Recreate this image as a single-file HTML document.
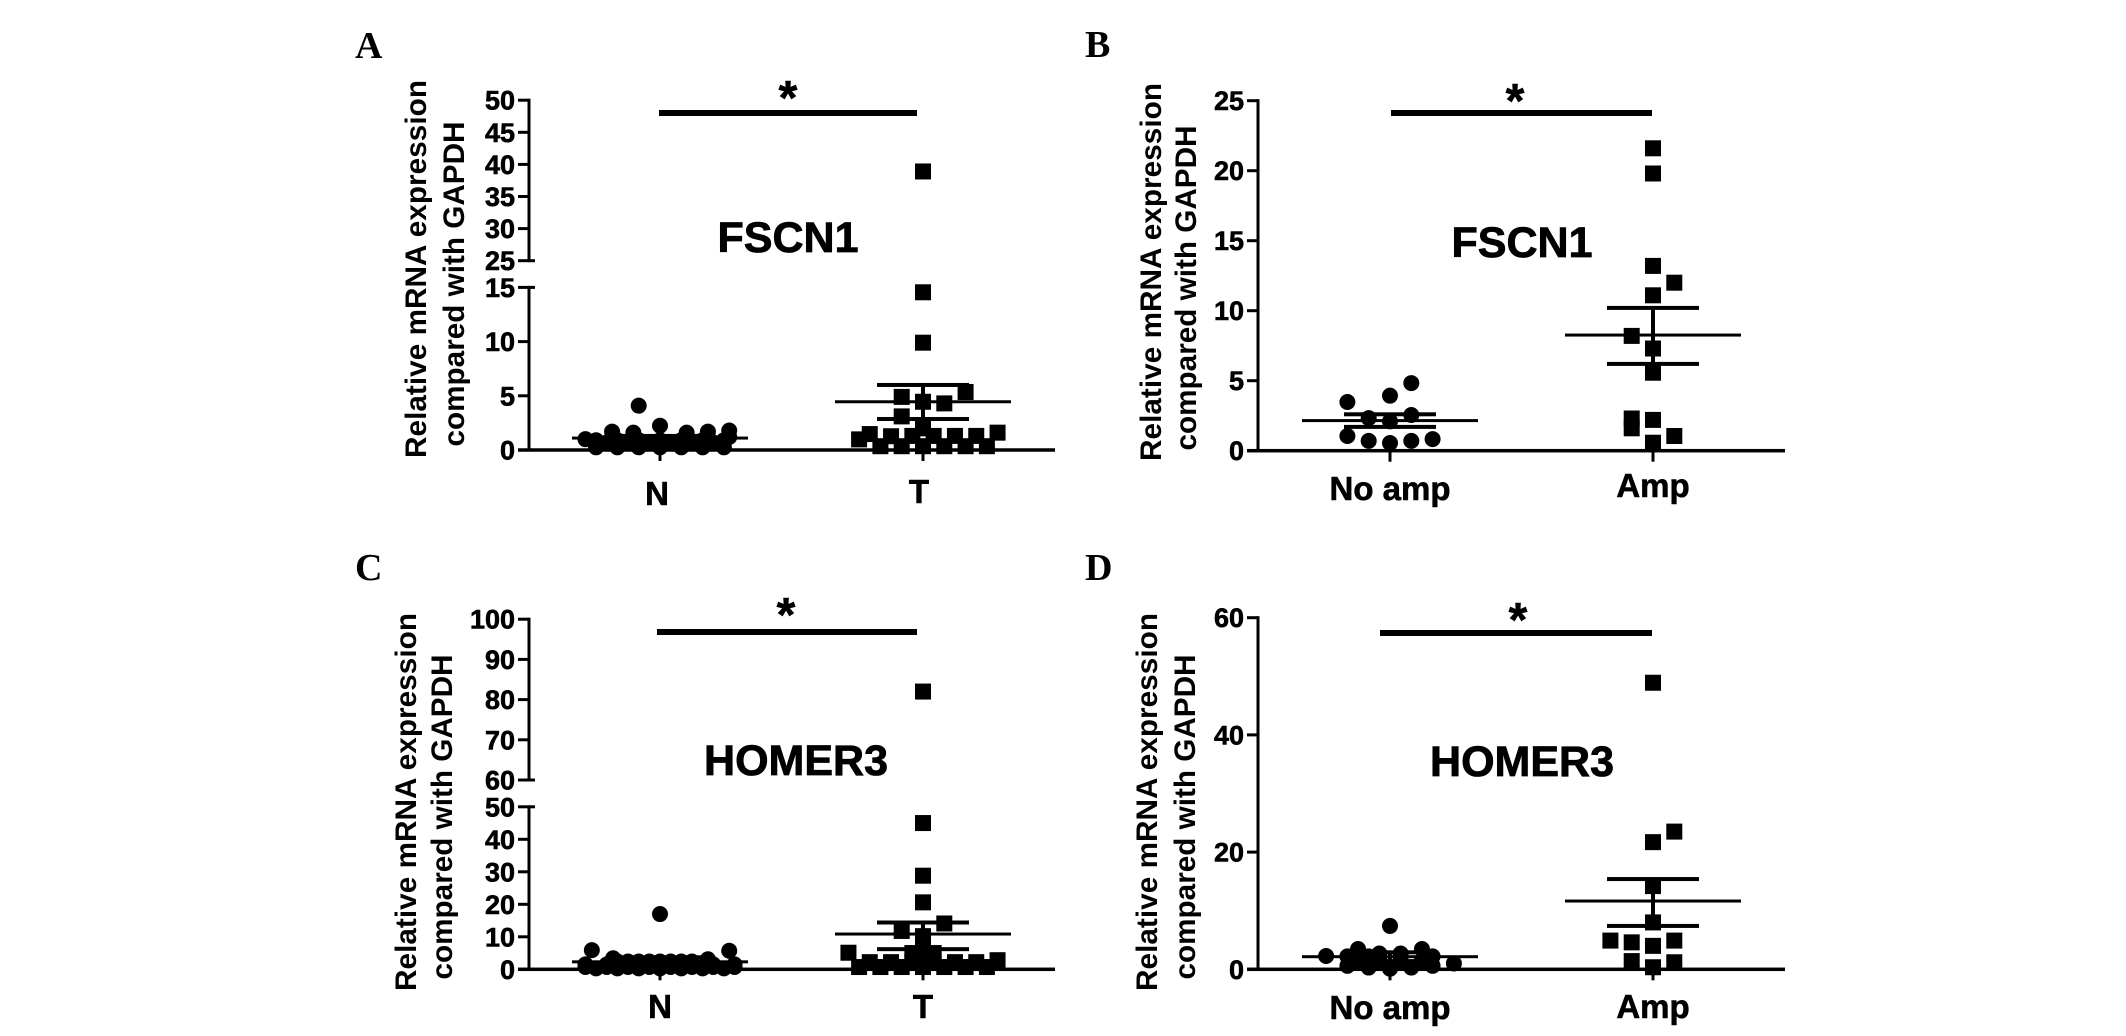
<!DOCTYPE html>
<html lang="en">
<head>
<meta charset="utf-8">
<title>FSCN1 and HOMER3 relative mRNA expression</title>
<style>
  html, body { margin: 0; padding: 0; background: #fff; }
  svg { display: block; width: 2126px; height: 1036px; font-family: "Liberation Sans", sans-serif; font-weight: bold; fill: #000; }
  .letter { font-family: "Liberation Serif", serif; font-size: 38px; font-weight: bold; }
  .ytitle { font-size: 29.7px; text-anchor: middle; }
  .gene { font-size: 43px; text-anchor: middle; stroke: #000; stroke-width: 0.8px; }
  .star { font-size: 48px; text-anchor: middle; stroke: #000; stroke-width: 0.6px; }
  .tick-label { font-size: 27px; text-anchor: end; stroke: #000; stroke-width: 0.6px; }
  .cat-label { font-size: 33px; text-anchor: middle; stroke: #000; stroke-width: 0.6px; }
</style>
</head>
<body>
<svg id="figure" xmlns="http://www.w3.org/2000/svg" width="2126" height="1036" viewBox="0 0 2126 1036">
  <text class="letter" x="355" y="58">A</text>
  <text class="letter" x="1085" y="57">B</text>
  <text class="letter" x="355" y="580">C</text>
  <text class="letter" x="1085" y="580">D</text>

  <text class="ytitle" transform="translate(426,269) rotate(-90)" textLength="378">Relative mRNA expression</text>
  <text class="ytitle" transform="translate(464,284) rotate(-90)" textLength="325">compared with GAPDH</text>
  <text class="ytitle" transform="translate(1161,272) rotate(-90)" textLength="378">Relative mRNA expression</text>
  <text class="ytitle" transform="translate(1196,288) rotate(-90)" textLength="325">compared with GAPDH</text>
  <text class="ytitle" transform="translate(416,802) rotate(-90)" textLength="378">Relative mRNA expression</text>
  <text class="ytitle" transform="translate(452,817) rotate(-90)" textLength="325">compared with GAPDH</text>
  <text class="ytitle" transform="translate(1157,802) rotate(-90)" textLength="378">Relative mRNA expression</text>
  <text class="ytitle" transform="translate(1195,817) rotate(-90)" textLength="325">compared with GAPDH</text>

  <text class="gene" x="788" y="252">FSCN1</text>
  <text class="gene" x="1522" y="257">FSCN1</text>
  <text class="gene" x="796" y="775">HOMER3</text>
  <text class="gene" x="1522" y="776">HOMER3</text>

  <rect x="659" y="110" width="258" height="6"/>
  <rect x="1391" y="110" width="261" height="6"/>
  <rect x="657" y="629" width="260" height="6"/>
  <rect x="1380" y="630" width="272" height="6"/>
  <text class="star" x="788" y="114">*</text>
  <text class="star" x="1515" y="117">*</text>
  <text class="star" x="786" y="631">*</text>
  <text class="star" x="1518" y="636">*</text>
</svg>
<script>
// Panel A data
const aTicks = [0, 5, 10, 15, 25, 30, 35, 40, 45, 50];
const aCategories = ["N", "T"];
const aNValues = [4.09, 2.24, 1.7, 1.6, 1.6, 1.7, 1.8, 1.2, 1.0, 0.9, 0.9, 0.9, 0.9, 0.9, 0.9, 0.9, 0.7, 0.7, 0.7, 0.7, 0.7, 0.7, 0.25, 0.25, 0.25, 0.25, 0.25, 0.25, 0.25];
const aNSlots = [-2, 0, -4.5, -2.5, 2.5, 4.5, 6.5, 6.5, -7, -6, -4, -2, 0, 2, 4, 6, -5, -3, -1, 1, 3, 5, -6, -4, -2, 0, 2, 4, 6];
const aTValues = [38.9, 14.55, 9.9, 5.35, 4.9, 4.45, 4.3, 3.1, 2.0, 0.98, 1.47, 1.27, 1.3, 1.3, 1.3, 1.3, 1.6, 0.35, 0.35, 0.35, 0.35, 0.35, 0.35];
const aTSlots = [0, 0, 0, 4, -2, 0, 2, -2, 0, -6, -5, -3, -1, 1, 3, 5, 7, -4, -2, 0, 2, 4, 6];
const aStats = [[1.1, 1.3, 0.9], [4.45, 6.0, 2.86]];

// Panel B data
const bTicks = [0, 5, 10, 15, 20, 25];
const bCategories = ["No amp", "Amp"];
const bNValues = [4.83, 3.93, 3.48, 2.55, 2.33, 2.1, 1.05, 0.83, 0.7, 0.7, 0.55];
const bNSlots = [2, 0, -4, 2, -2, 0, -4, 4, -2, 2, 0];
const bTValues = [21.6, 19.8, 13.2, 12.0, 11.1, 8.2, 7.3, 5.57, 2.3, 1.6, 2.2, 1.05, 0.57];
const bTSlots = [0, 0, 0, 2, 0, -2, 0, 0, -2, -2, 0, 2, 0];
const bStats = [[2.15, 2.6, 1.7], [8.26, 10.2, 6.2]];

// Panel C data
const cTicks = [0, 10, 20, 30, 40, 50, 60, 70, 80, 90, 100];
const cCategories = ["N", "T"];
const cNValues = [17.0, 5.9, 5.7, 3.4, 3.1, 2.4, 2.4, 2.4, 2.4, 2.4, 2.4, 2.4, 2.4, 1.5, 1.5, 1.5, 1.5, 1.5, 1.5, 1.5, 1.5, 0.7, 0.7, 0.7, 0.7, 0.7, 0.7, 0.7, 0.7, 0.3, 0.3, 0.3, 0.3, 0.3, 0.3, 0.3];
const cNSlots = [0, -6.4, 6.5, -4.4, 4.5, -4, -3, -1, 1, 3, 2, 0, -2, -7, -5, -3, -1, 1, 3, 5, 7, -7, -5, -3, -1, 1, 3, 5, 7, -6, -4, -2, 0, 2, 4, 6];
const cTValues = [82, 45, 28.8, 20.6, 14.1, 11.8, 10.2, 8, 5.1, 5.2, 5, 5, 2.2, 2.2, 2.2, 2.2, 2.2, 2.2, 2.8, 0.7, 0.7, 0.7, 0.7, 0.7, 0.7, 0.7];
const cTSlots = [0, 0, 0, 0, 2, -2, 0, 0, -7, 0, -1, 1, -5, -3, -1, 1, 3, 5, 7, -6, -4, -2, 0, 2, 4, 6];
const cStats = [[2.3, 3.7, 1.0], [10.85, 14.4, 6.2]];

// Panel D data
const dTicks = [0, 20, 40, 60];
const dCategories = ["No amp", "Amp"];
const dNValues = [7.4, 3.46, 3.46, 2.7, 2.7, 2.27, 2.2, 2.2, 2.2, 1.0, 1.5, 1.5, 1.5, 1.5, 0.6, 0.3, 0.1, 0.3, 0.6];
const dNSlots = [0, -3, 3, -1, 1, -6, -4, -2, 4, 6, -3, -1, 1, 3, -4, -2, 0, 2, 4];
const dTValues = [48.9, 23.5, 21.7, 14.2, 8.0, 4.9, 4.9, 4.6, 4.0, 1.4, 1.2, 0.35];
const dTSlots = [0, 2, 0, 0, 0, -4, 2, -2, 0, -2, 2, 0];
const dStats = [[2.15, 2.9, 1.4], [11.65, 15.4, 7.4]];

const svg = document.getElementById('figure');
const NS = 'http://www.w3.org/2000/svg';

function yA(v) { return v <= 15 ? 450 - v * 10.84 : 260.7 - (v - 25) * 6.42; }
function yB(v) { return 450.7 - v * 14; }
function yC(v) { return v <= 50 ? 969.3 - v * 3.25 : 780 - (v - 60) * 4.02; }
function yD(v) { return 969.3 - v * 5.86; }
function xLeft(cat, slot) { return (cat === 0 ? 660 : 923) + slot * 10.65; }
function xRight(cat, slot) { return (cat === 0 ? 1390 : 1653) + slot * 10.65; }

function shape(tag, name, fields) {
  const el = document.createElementNS(NS, tag);
  
  
  Object.keys(fields).forEach(function (k) { el.setAttribute(k, fields[k]); });
  svg.appendChild(el);
  return el;
}
function hLine(name, x1, x2, y, w) {
  return shape('rect', name, { x: x1, y: y - w / 2, width: x2 - x1, height: w });
}
function vLine(name, x, y1, y2, w) {
  return shape('rect', name, { x: x - w / 2, y: y1, width: w, height: y2 - y1 });
}

function drawPanel(id, ticks, categories, nValues, nSlots, tValues, tSlots, stats, y, x, axisX, axisEnd, segments, brk, catBaselines) {
  // y axis segments and ticks
  segments.forEach(function (s, i) {
    vLine('panel-' + id + '-y-axis-segment-' + i, axisX, y(s[1]) - 1.5, y(s[0]) + 1.5, 3);
  });
  ticks.forEach(function (t) {
    hLine('panel-' + id + '-y-tick-' + t, axisX - 11, axisX + (brk.indexOf(t) >= 0 ? 6 : 0), y(t), 3);
    const label = shape('text', 'panel-' + id + '-y-tick-label-' + t, { 'class': 'tick-label', x: axisX - 14, y: y(t) + 9.5 });
    label.textContent = String(t);
  });
  // x axis
  hLine('panel-' + id + '-x-axis', axisX - 11, axisEnd, y(0), 3.5);
  categories.forEach(function (c, i) {
    vLine('panel-' + id + '-x-tick-' + i, x(i, 0), y(0), y(0) + 11, 3);
    const label = shape('text', 'panel-' + id + '-category-label-' + i, { 'class': 'cat-label', x: x(i, 0) - (id === 'a' ? (i === 0 ? 3 : 4) : 0), y: catBaselines[i] });
    label.textContent = c;
  });
  // points
  nValues.forEach(function (v, i) {
    shape('circle', 'panel-' + id + '-point-group-1', { cx: x(0, nSlots[i]), cy: y(v), r: 8 });
  });
  tValues.forEach(function (v, i) {
    shape('rect', 'panel-' + id + '-point-group-2', { x: x(1, tSlots[i]) - 8, y: y(v) - 8, width: 16, height: 16 });
  });
  // mean and SEM
  stats.forEach(function (st, i) {
    const cx = x(i, 0);
    hLine('panel-' + id + '-mean-line-' + i, cx - 88, cx + 88, y(st[0]), 3);
    hLine('panel-' + id + '-error-cap-upper-' + i, cx - 46, cx + 46, y(st[1]), 4);
    hLine('panel-' + id + '-error-cap-lower-' + i, cx - 46, cx + 46, y(st[2]), 4);
    vLine('panel-' + id + '-error-stem-' + i, cx, y(st[1]), y(st[2]), 4);
  });
}

drawPanel('a', aTicks, aCategories, aNValues, aNSlots, aTValues, aTSlots, aStats, yA, xLeft, 529, 1055, [[0, 15], [25, 50]], [15, 25], [505, 503]);
drawPanel('b', bTicks, bCategories, bNValues, bNSlots, bTValues, bTSlots, bStats, yB, xRight, 1258, 1785, [[0, 25]], [], [500, 497]);
drawPanel('c', cTicks, cCategories, cNValues, cNSlots, cTValues, cTSlots, cStats, yC, xLeft, 529, 1055, [[0, 50], [60, 100]], [50, 60], [1018, 1018]);
drawPanel('d', dTicks, dCategories, dNValues, dNSlots, dTValues, dTSlots, dStats, yD, xRight, 1258, 1785, [[0, 60]], [], [1019, 1018]);
</script>
</body>
</html>
